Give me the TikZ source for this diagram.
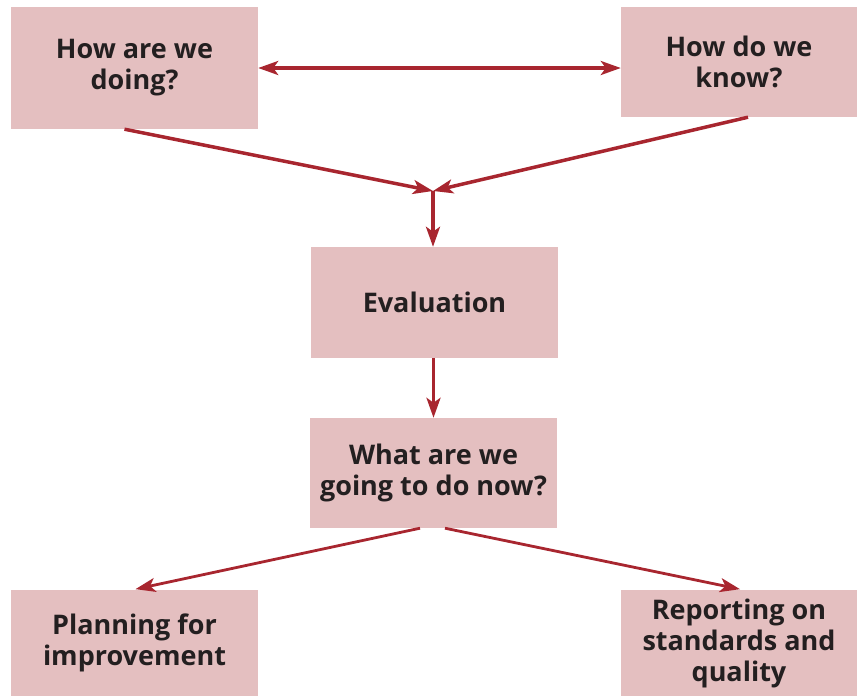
\documentclass[tikz,border=0pt]{standalone}
\usepackage{fontspec}
\setmainfont{Open Sans}
\usetikzlibrary{arrows.meta,positioning}
\definecolor{boxpink}{HTML}{E4BFC0}
\definecolor{arrowred}{HTML}{A8262F}
\definecolor{textdark}{HTML}{231F20}

\begin{document}
\begin{tikzpicture}[x=1pt,y=-1pt,>={Stealth[length=20pt,width=14pt,inset=5pt]}]
\tikzstyle{main}=[rectangle, fill=boxpink, text=textdark, font=\bfseries\fontsize{27}{31}\selectfont, align=center, inner sep=0pt, minimum width=247pt]
\tikzstyle{wide}=[main, minimum width=236pt]
\tikzstyle{connect}=[->, draw=arrowred, line width=3.5pt]
\tikzstyle{thin}=[connect, line width=2.8pt, shorten >=3pt]

  \useasboundingbox (0,0) rectangle (858,696);

  % boxes
  \node[main, minimum height=122pt] (doing)  at (134.5,68)    {How are we\\doing?};
  \node[wide, minimum height=110pt] (know)   at (739,62)      {How do we\\know?};
  \node[main, minimum height=111pt] (eval)   at (434.5,302.5) {Evaluation};
  \node[main, minimum height=110pt] (todo)   at (433.5,473)   {What are we\\going to do now?};
  \node[main, minimum height=106pt] (plan)   at (134.5,643)   {Planning for\\improvement};
  \node[wide, minimum height=106pt] (report) at (739,643)     {Reporting on\\standards and\\quality};

  \coordinate (meet) at (433,191);

  % arrows
  \draw[connect, <->] (doing.east) -- (doing.east -| know.west);
  \draw[connect] ([xshift=-10pt]doing.south) -- (meet);
  \draw[connect] ([xshift=9pt]know.south) -- (meet);
  \draw[connect] (meet) -- (meet |- eval.north);
  \draw[connect] (todo.north |- eval.south) -- (todo.north);
  \draw[thin] ([xshift=-13.5pt]todo.south) -- ([xshift=-2pt]plan.north);
  \draw[thin] ([xshift=11.5pt]todo.south) -- ([xshift=4pt]report.north);

\end{tikzpicture}
\end{document}
